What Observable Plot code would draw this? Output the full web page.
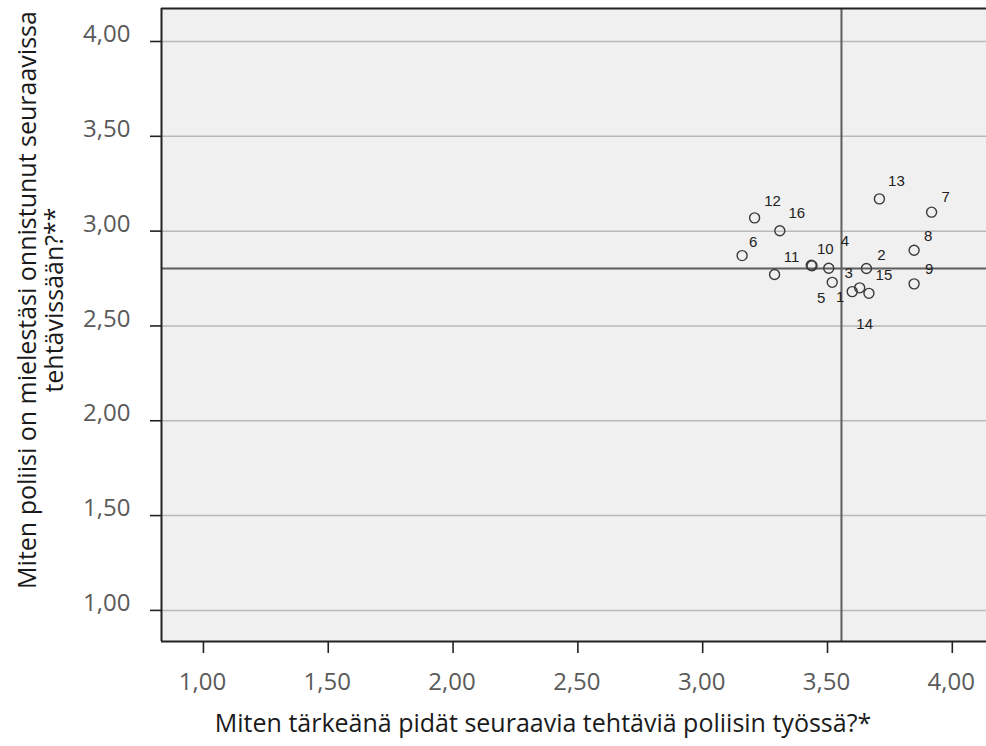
<!DOCTYPE html>
<html><head><meta charset="utf-8">
<script src="https://cdn.jsdelivr.net/npm/d3@7"></script>
<script src="https://cdn.jsdelivr.net/npm/@observablehq/plot@0.6"></script>
<style>body{margin:0;background:#fff;} #chart svg{display:block;}</style>
</head><body><div id="chart"></div>
<script>
// Item numbers and their mean scores
const ids        = [1, 2, 3, 4, 5, 6, 7, 8, 9, 10, 11, 12, 13, 14, 15, 16];
const importance = [3.599, 3.656, 3.505, 3.438, 3.519, 3.158, 3.917, 3.847, 3.847, 3.435, 3.288, 3.208, 3.708, 3.629, 3.666, 3.309];
const success    = [2.681, 2.803, 2.804, 2.817, 2.730, 2.871, 3.100, 2.899, 2.722, 2.820, 2.771, 3.070, 3.170, 2.701, 2.672, 3.002];
// Reference lines (means)
const meanImportance = 3.556;
const meanSuccess = 2.803;
// Ticks
const xTicks = [1.0, 1.5, 2.0, 2.5, 3.0, 3.5, 4.0];
const yTicks = [1.0, 1.5, 2.0, 2.5, 3.0, 3.5, 4.0];
const xDomain = [0.832, 4.137];
const yDomain = [0.836, 4.174];
const xTitle = "Miten tärkeänä pidät seuraavia tehtäviä poliisin työssä?*";
const yTitle = "Miten poliisi on mielestäsi onnistunut seuraavissa\ntehtävissään?**";

// label nudges (px) for the point labels
const labelNudge = {1:[-12,6], 2:[15,-13], 3:[20,5], 4:[33,-25], 5:[-11,16], 6:[11,-13], 7:[14,-15], 8:[14,-14],
  9:[15,-15], 10:[14,-16], 11:[17,-17], 12:[18,-17], 13:[17,-18], 14:[5,36], 15:[15,-18], 16:[17,-18]};

const points = ids.map((id, i) => ({id: String(id), x: importance[i], y: success[i]}));
const fmt = d => d.toFixed(2).replace(".", ",");
const blank = () => "";
const font = "'Open Sans', 'Noto Sans', sans-serif";

const chart = Plot.plot({
  width: 986, height: 746,
  marginLeft: 161, marginRight: 0, marginTop: 8, marginBottom: 105,
  style: {fontFamily: font, background: "#fff"},
  x: {domain: xDomain},
  y: {domain: yDomain},
  marks: [
    Plot.frame({fill: "#f0f0f0", stroke: null}),
    Plot.ruleY(yTicks, {stroke: "#b8b8b8", strokeWidth: 1.5}),
    Plot.ruleX([meanImportance], {stroke: "#5e5e5e", strokeWidth: 2}),
    Plot.ruleY([meanSuccess], {stroke: "#5e5e5e", strokeWidth: 2}),
    Plot.ruleX([xDomain[0]], {stroke: "#222", strokeWidth: 2}),
    Plot.ruleY([yDomain[0], yDomain[1]], {stroke: "#222", strokeWidth: 2}),
    Plot.dot(points, {x: "x", y: "y", r: 5, stroke: "#3a3a3a", strokeWidth: 1.4, fill: "none"}),
    ...points.map(p => Plot.text([p], {x: "x", y: "y", text: "id", dx: labelNudge[p.id][0], dy: labelNudge[p.id][1],
      fontFamily: "'Liberation Sans', Arial, sans-serif", fontSize: 15, fill: "#222"})),
    Plot.axisY(yTicks, {anchor: "left", label: null, tickSize: 11, tickFormat: blank, stroke: "#222", strokeWidth: 1.6}),
    Plot.axisY(yTicks, {anchor: "left", label: null, tickSize: 0, tickPadding: 31, dy: -7, tickFormat: fmt, fontSize: 24, fill: "#5a5a5a", stroke: "none"}),
    Plot.axisX(xTicks, {anchor: "bottom", label: null, tickSize: 12, tickFormat: blank, stroke: "#222", strokeWidth: 1.6}),
    Plot.axisX(xTicks, {anchor: "bottom", label: null, tickSize: 0, tickPadding: 31, dx: -1, tickFormat: fmt, fontSize: 24, fill: "#5a5a5a", stroke: "none"}),
    Plot.text([xTitle], {frameAnchor: "bottom", textAnchor: "middle", dx: -31, dy: 90, fontSize: 25, fill: "#1a1a1a"}),
    Plot.text([yTitle], {frameAnchor: "left", textAnchor: "middle", rotate: -90, dx: -121, dy: -25, fontSize: 25, lineHeight: 1.08, fill: "#1a1a1a"})
  ]
});
document.getElementById("chart").appendChild(chart);
</script>
</body></html>
